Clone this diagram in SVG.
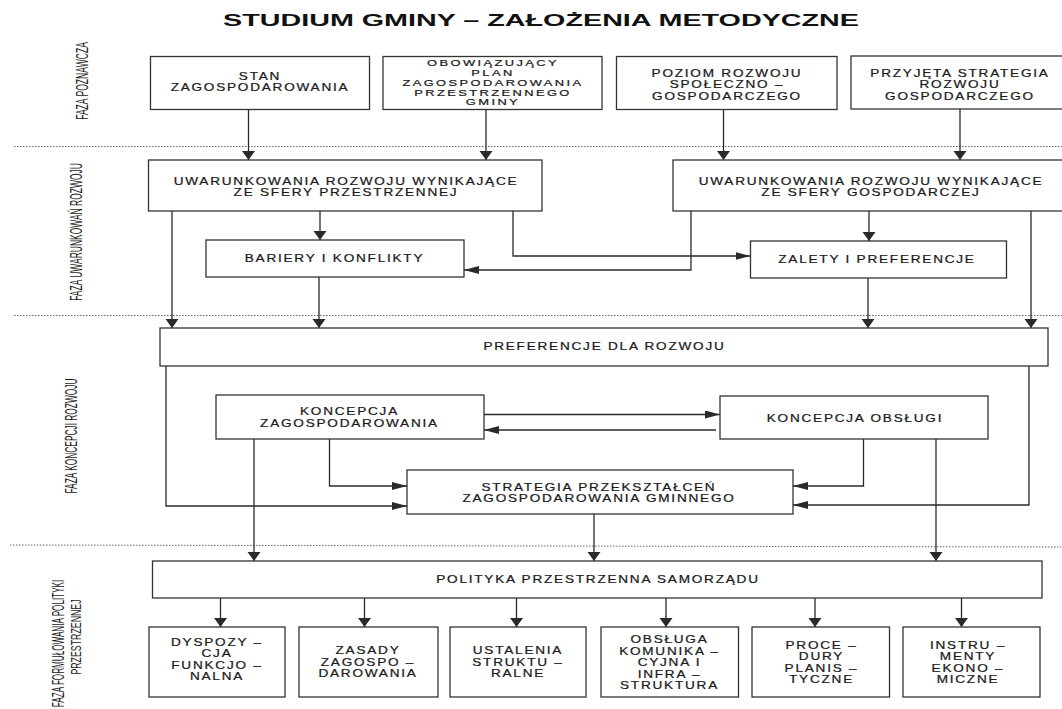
<svg xmlns="http://www.w3.org/2000/svg" width="1062" height="709" viewBox="0 0 1062 709">
<style>
.bg{fill:#ffffff}
.box{fill:#ffffff;stroke:#333333;stroke-width:1.3}
.t{font-family:"Liberation Sans",Arial,sans-serif;font-size:10px;letter-spacing:1.3px;text-anchor:middle;fill:#1a1a1a;stroke:#1a1a1a;stroke-width:0.2;transform:scaleX(1.36);transform-box:fill-box;transform-origin:center}
.tc{font-family:"Liberation Sans",Arial,sans-serif;font-size:8.6px;letter-spacing:1.6px;text-anchor:middle;fill:#1a1a1a;stroke:#1a1a1a;stroke-width:0.2;transform:scaleX(1.5);transform-box:fill-box;transform-origin:center}
.s{font-family:"Liberation Sans",Arial,sans-serif;font-size:11px;text-anchor:middle;fill:#1a1a1a}
.title{font-family:"Liberation Sans",Arial,sans-serif;font-size:17px;font-weight:bold;fill:#111111}
.sep{stroke:#666666;stroke-width:1;stroke-dasharray:1.5 1.5;fill:none}
.c{fill:none;stroke:#2a2a2a;stroke-width:1.3}
.v{marker-end:url(#mv)}
.h{marker-end:url(#mh)}
</style>
<defs>
<marker id="mv" markerUnits="userSpaceOnUse" markerWidth="16" markerHeight="16" refX="9" refY="6.5" orient="auto">
<path d="M0,0 L9,6.5 L0,13 z" fill="#2a2a2a"/>
</marker>
<marker id="mh" markerUnits="userSpaceOnUse" markerWidth="18" markerHeight="10" refX="15" refY="4" orient="auto">
<path d="M0,0 L15,4 L0,8 z" fill="#2a2a2a"/>
</marker>
</defs>
<rect class="bg" x="0" y="0" width="1062" height="709"/>

<text class="title" x="223" y="26" textLength="636" lengthAdjust="spacingAndGlyphs">STUDIUM GMINY – ZAŁOŻENIA METODYCZNE</text>

<g id="separators">
<line class="sep" x1="14" y1="146.5" x2="1062" y2="146.5"/>
<line class="sep" x1="14" y1="315.5" x2="1062" y2="315.5"/>
<line class="sep" x1="10" y1="545" x2="1062" y2="547"/>
</g>

<g id="phase-labels">
<text class="s" transform="translate(82.5,81) rotate(-90) scale(0.78,1.52)" x="0" y="3.9">FAZA POZNAWCZA</text>
<text class="s" transform="translate(76.5,232) rotate(-90) scale(0.77,1.52)" x="0" y="3.9">FAZA UWARUNKOWAŃ ROZWOJU</text>
<text class="s" transform="translate(71.5,436) rotate(-90) scale(0.76,1.52)" x="0" y="3.9">FAZA KONCEPCJI ROZWOJU</text>
<text class="s" transform="translate(57.7,643.5) rotate(-90) scale(0.74,1.52)" x="0" y="3.9">FAZA FORMUŁOWANIA POLITYKI</text>
<text class="s" transform="translate(75.8,637) rotate(-90) scale(0.8,1.4)" x="0" y="3.9">PRZESTRZENNEJ</text>
</g>

<g id="connectors">
<path class="c v" d="M248.5,110 V160"/>
<path class="c v" d="M486,110 V160"/>
<path class="c v" d="M723.5,109.5 V160"/>
<path class="c v" d="M960,109 V160"/>
<path class="c v" d="M172,211 V328"/>
<path class="c v" d="M320,211 V240"/>
<path class="c v" d="M319,277 V328"/>
<path class="c v" d="M869,211 V241"/>
<path class="c v" d="M868,278 V328"/>
<path class="c v" d="M1031,211 V328"/>
<path class="c h" d="M513,211 V256 H750.5"/>
<path class="c h" d="M691,211 V270 H464"/>
<path class="c h" d="M484,414.5 H720"/>
<path class="c h" d="M716,430 H484"/>
<path class="c h" d="M329.5,439 V486 H407"/>
<path class="c h" d="M166,366 V506 H407"/>
<path class="c h" d="M863.5,439 V486 H793"/>
<path class="c h" d="M1029,366 V505 H793"/>
<path class="c v" d="M254,439 V561"/>
<path class="c v" d="M594,514 V561"/>
<path class="c v" d="M936,439 V561"/>
<path class="c v" d="M220.5,598 V627"/>
<path class="c v" d="M364.5,598 V627"/>
<path class="c v" d="M516.5,598 V627"/>
<path class="c v" d="M666,598 V627"/>
<path class="c v" d="M815,598 V627"/>
<path class="c v" d="M961.5,598 V627"/>
</g>

<g id="stan-zagospodarowania">
<rect class="box" x="150.5" y="56.5" width="219" height="53"/>
<text class="t"><tspan x="260" y="80">STAN</tspan><tspan x="260" y="91.5">ZAGOSPODAROWANIA</tspan></text>
</g>
<g id="obowiazujacy-plan">
<rect class="box" x="383" y="56.5" width="219" height="53"/>
<text class="tc"><tspan x="493" y="66.5">OBOWIĄZUJĄCY</tspan><tspan x="493" y="76.2">PLAN</tspan><tspan x="493" y="85.9">ZAGOSPODAROWANIA</tspan><tspan x="493" y="95.6">PRZESTRZENNEGO</tspan><tspan x="493" y="105.3">GMINY</tspan></text>
</g>
<g id="poziom-rozwoju">
<rect class="box" x="616.5" y="56.5" width="220.5" height="53"/>
<text class="t"><tspan x="727" y="77">POZIOM ROZWOJU</tspan><tspan x="727" y="88.5">SPOŁECZNO –</tspan><tspan x="727" y="100">GOSPODARCZEGO</tspan></text>
</g>
<g id="przyjeta-strategia">
<rect class="box" x="851" y="56" width="220" height="53"/>
<text class="t"><tspan x="960" y="77">PRZYJĘTA STRATEGIA</tspan><tspan x="960" y="88.5">ROZWOJU</tspan><tspan x="960" y="100">GOSPODARCZEGO</tspan></text>
</g>

<g id="uwarunkowania-przestrzenne">
<rect class="box" x="148.5" y="160" width="393.5" height="51"/>
<text class="t"><tspan x="346" y="185">UWARUNKOWANIA ROZWOJU WYNIKAJĄCE</tspan><tspan x="346" y="196.5">ZE SFERY PRZESTRZENNEJ</tspan></text>
</g>
<g id="uwarunkowania-gospodarcze">
<rect class="box" x="673" y="160" width="400" height="51"/>
<text class="t"><tspan x="871" y="185">UWARUNKOWANIA ROZWOJU WYNIKAJĄCE</tspan><tspan x="871" y="196.5">ZE SFERY GOSPODARCZEJ</tspan></text>
</g>
<g id="bariery">
<rect class="box" x="206" y="240" width="258" height="37"/>
<text class="t" x="334.5" y="262">BARIERY I KONFLIKTY</text>
</g>
<g id="zalety">
<rect class="box" x="750.5" y="241" width="256" height="37"/>
<text class="t" x="877" y="263">ZALETY I PREFERENCJE</text>
</g>

<g id="preferencje">
<rect class="box" x="160" y="328" width="888" height="38"/>
<text class="t" x="604.5" y="350.5">PREFERENCJE DLA ROZWOJU</text>
</g>
<g id="koncepcja-zagospodarowania">
<rect class="box" x="216" y="395" width="268" height="44"/>
<text class="t"><tspan x="349.5" y="415.5">KONCEPCJA</tspan><tspan x="349.5" y="427">ZAGOSPODAROWANIA</tspan></text>
</g>
<g id="koncepcja-obslugi">
<rect class="box" x="720" y="396" width="268" height="43"/>
<text class="t" x="855" y="422">KONCEPCJA OBSŁUGI</text>
</g>
<g id="strategia">
<rect class="box" x="407" y="470" width="386" height="44"/>
<text class="t"><tspan x="599" y="491">STRATEGIA PRZEKSZTAŁCEŃ</tspan><tspan x="599" y="502.5">ZAGOSPODAROWANIA GMINNEGO</tspan></text>
</g>

<g id="polityka">
<rect class="box" x="152.5" y="561" width="889.5" height="37"/>
<text class="t" x="598" y="583.5">POLITYKA PRZESTRZENNA SAMORZĄDU</text>
</g>
<g id="dyspozycja">
<rect class="box" x="149" y="627" width="136" height="70"/>
<text class="t"><tspan x="217" y="646">DYSPOZY –</tspan><tspan x="217" y="657.5">CJA</tspan><tspan x="217" y="669">FUNKCJO –</tspan><tspan x="217" y="680.5">NALNA</tspan></text>
</g>
<g id="zasady">
<rect class="box" x="299" y="627" width="139" height="70"/>
<text class="t"><tspan x="368" y="654.5">ZASADY</tspan><tspan x="368" y="666">ZAGOSPO –</tspan><tspan x="368" y="677.5">DAROWANIA</tspan></text>
</g>
<g id="ustalenia">
<rect class="box" x="450" y="627" width="136" height="70"/>
<text class="t"><tspan x="518" y="654.5">USTALENIA</tspan><tspan x="518" y="666">STRUKTU –</tspan><tspan x="518" y="677.5">RALNE</tspan></text>
</g>
<g id="obsluga">
<rect class="box" x="601" y="627" width="137.5" height="70"/>
<text class="t"><tspan x="669.5" y="643.5">OBSŁUGA</tspan><tspan x="669.5" y="655">KOMUNIKA –</tspan><tspan x="669.5" y="666.5">CYJNA I</tspan><tspan x="669.5" y="678">INFRA –</tspan><tspan x="669.5" y="689.5">STRUKTURA</tspan></text>
</g>
<g id="procedury">
<rect class="box" x="752" y="627" width="137.5" height="70"/>
<text class="t"><tspan x="821.5" y="649">PROCE –</tspan><tspan x="821.5" y="660.5">DURY</tspan><tspan x="821.5" y="672">PLANIS –</tspan><tspan x="821.5" y="683.5">TYCZNE</tspan></text>
</g>
<g id="instrumenty">
<rect class="box" x="903" y="627" width="137" height="70"/>
<text class="t"><tspan x="968" y="649">INSTRU –</tspan><tspan x="968" y="660.5">MENTY</tspan><tspan x="968" y="672">EKONO –</tspan><tspan x="968" y="683.5">MICZNE</tspan></text>
</g>
</svg>
